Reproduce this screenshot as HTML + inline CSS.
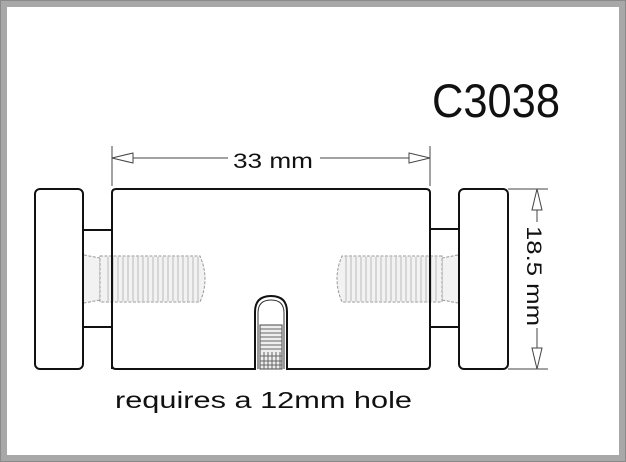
<!DOCTYPE html>
<html><head><style>
html,body{margin:0;padding:0;background:#fff}
svg{display:block}
text{font-family:"Liberation Sans",sans-serif;fill:#111}
</style></head><body>
<svg width="626" height="462" viewBox="0 0 626 462" xmlns="http://www.w3.org/2000/svg">
<rect x="0" y="0" width="626" height="462" fill="#8a8a8a"/>
<rect x="1" y="1" width="624" height="460" fill="#a8a8a8"/>
<rect x="7" y="7" width="612" height="448" fill="#fff"/>

<text x="432" y="117" font-size="47" textLength="128" lengthAdjust="spacingAndGlyphs">C3038</text>

<!-- 33 mm dimension -->
<g stroke="#444" stroke-width="1" fill="#fff">
<line x1="112" y1="146" x2="112" y2="186"/>
<line x1="430" y1="146" x2="430" y2="186"/>
<line x1="112" y1="158" x2="228" y2="158"/>
<line x1="320" y1="158" x2="430" y2="158"/>
<polygon points="112,158 133,153 133,163"/>
<polygon points="430,158 409,153 409,163"/>
</g>
<text x="233" y="168" font-size="21" textLength="80" lengthAdjust="spacingAndGlyphs">33 mm</text>

<!-- 18.5 mm dimension -->
<g stroke="#444" stroke-width="1" fill="#fff">
<line x1="508" y1="189" x2="548" y2="189"/>
<line x1="508" y1="369" x2="548" y2="369"/>
<line x1="537" y1="189" x2="537" y2="222"/>
<line x1="537" y1="328" x2="537" y2="369"/>
<polygon points="537,189 532,210 542,210"/>
<polygon points="537,369 532,348 542,348"/>
</g>
<text transform="translate(527,226) rotate(90)" font-size="21" textLength="100" lengthAdjust="spacingAndGlyphs">18.5 mm</text>

<!-- threads -->
<g stroke="#999" stroke-width="1" fill="#f2f2f2" stroke-dasharray="3,1.5">
<path d="M84,255 L100,258 L100,300 L84,303"/>
<path d="M100,256 L200,256 Q210,279 200,302 L100,302 Z"/>
<path d="M458,255 L442,258 L442,300 L458,303"/>
<path d="M442,256 L342,256 Q332,279 342,302 L442,302 Z"/>
</g>
<g stroke="#bbb" stroke-width="1">
<path d="M108,257V301M113,257V301M118,257V301M123,257V301M128,257V301M133,257V301M138,257V301M143,257V301M148,257V301M153,257V301M158,257V301M163,257V301M168,257V301M173,257V301M178,257V301M183,257V301M188,257V301M193,257V301M198,257V301"/>
<path d="M346,257V301M351,257V301M356,257V301M361,257V301M366,257V301M371,257V301M376,257V301M381,257V301M386,257V301M391,257V301M396,257V301M401,257V301M406,257V301M411,257V301M416,257V301M421,257V301M426,257V301M431,257V301M436,257V301"/>
</g>

<!-- main parts -->
<g stroke="#111" stroke-width="2" fill="none">
<rect x="35" y="189" width="48" height="180" rx="5"/>
<rect x="459" y="189" width="49" height="180" rx="5"/>
<line x1="83" y1="230" x2="112" y2="230"/>
<line x1="83" y1="327" x2="112" y2="327"/>
<line x1="430" y1="229" x2="459" y2="229"/>
<line x1="430" y1="327" x2="459" y2="327"/>
<path d="M112,369 V193 Q112,189 116,189 H426 Q430,189 430,193 V365 Q430,369 426,369 H287 V312 Q287,296 271,296 Q255,296 255,312 V369 H116 Q112,369 112,365"/>
</g>
<path d="M258,369 V313 Q258,300 271,300 Q284,300 284,313 V369" fill="none" stroke="#333" stroke-width="1"/>
<rect x="260" y="325" width="22" height="44" fill="#eee" stroke="#444" stroke-width="1"/>
<g stroke="#666" stroke-width="1">
<path d="M260,329H282M260,333H282M260,337H282M260,341H282M260,345H282M260,349H282"/>
<path d="M264,352V369M268,352V369M272,352V369M276,352V369M280,352V369M260,356H282M260,361H282M260,365H282"/>
</g>

<text x="115" y="408" font-size="23" textLength="297" lengthAdjust="spacingAndGlyphs">requires a 12mm hole</text>
</svg>
</body></html>
